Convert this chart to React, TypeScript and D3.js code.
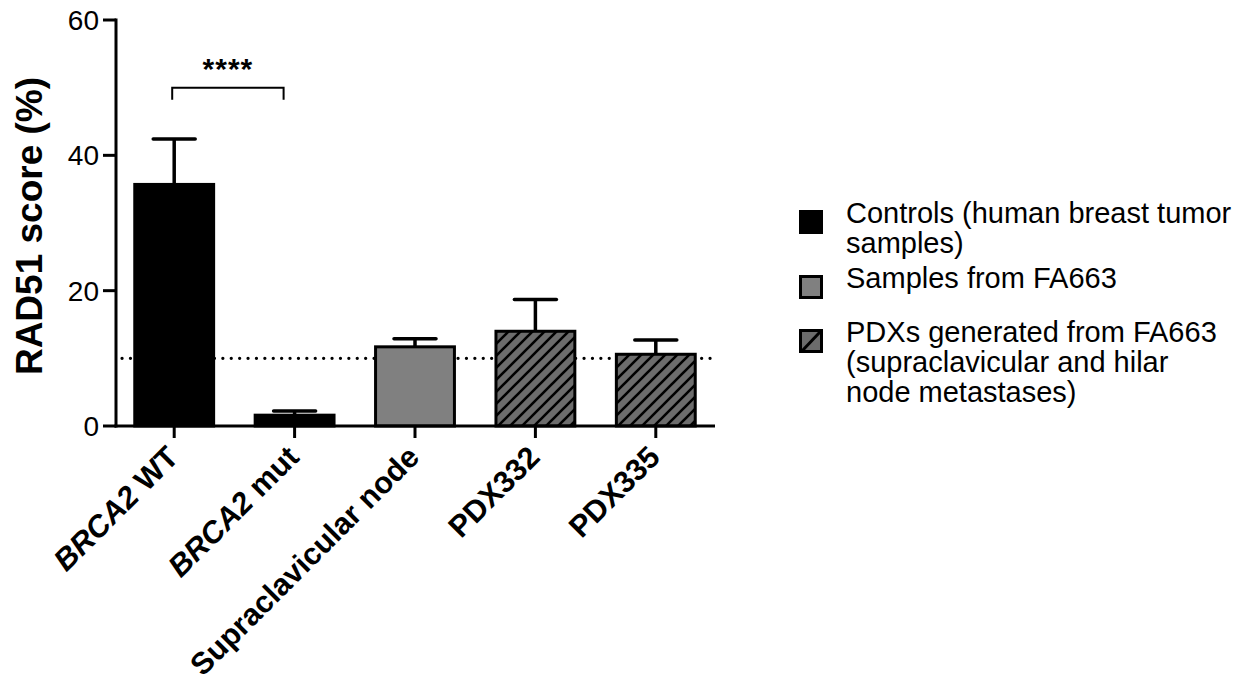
import React, { useEffect, useRef } from 'react';
import * as d3 from 'd3';

const categories = ['BRCA2 WT', 'BRCA2 mut', 'Supraclavicular node', 'PDX332', 'PDX335'];
const italicPart = ['BRCA2', 'BRCA2', '', '', ''];
const means = [35.7, 1.6, 11.7, 14.0, 10.6];
const errors = [6.7, 0.6, 1.2, 4.7, 2.1];
const groups = ['control', 'control', 'sample', 'pdx', 'pdx'];
const yTicks = [0, 20, 40, 60];
const threshold = 10;
const legendItems = [
  { key: 'control', lines: ['Controls (human breast tumor', 'samples)'] },
  { key: 'sample', lines: ['Samples from FA663'] },
  { key: 'pdx', lines: ['PDXs generated from FA663', '(supraclavicular and hilar', 'node metastases)'] },
];

const FONT = 'Arial, "Liberation Sans", sans-serif';

const App = () => {
  const ref = useRef(null);

  useEffect(() => {
    const svg = d3.select(ref.current);
    svg.selectAll('*').remove();

    const y = d3.scaleLinear().domain([0, 60]).range([426, 20]);
    const x = d3
      .scaleBand()
      .domain(categories)
      .range([114, 716])
      .paddingInner(0.32)
      .paddingOuter(0.16);
    const bw = x.bandwidth();
    const cx = (c) => x(c) + bw / 2;

    const defs = svg.append('defs');
    const pat = defs
      .append('pattern')
      .attr('id', 'hatch')
      .attr('patternUnits', 'userSpaceOnUse')
      .attr('width', 12)
      .attr('height', 12);
    pat.append('rect').attr('width', 12).attr('height', 12).attr('fill', '#6c6c6c');
    pat
      .append('path')
      .attr('d', 'M-3,3 L3,-3 M0,12 L12,0 M9,15 L15,9')
      .attr('stroke', '#000')
      .attr('stroke-width', 2.6);

    const fillFor = { control: '#000', sample: '#808080', pdx: 'url(#hatch)' };

    // threshold dotted line (behind bars)
    svg
      .append('line')
      .attr('x1', 122)
      .attr('x2', 713)
      .attr('y1', y(threshold))
      .attr('y2', y(threshold))
      .attr('stroke', '#000')
      .attr('stroke-width', 3.2)
      .attr('stroke-linecap', 'round')
      .attr('stroke-dasharray', '0.1 8.3');

    // bars
    svg
      .selectAll('.bar')
      .data(categories)
      .enter()
      .append('rect')
      .attr('class', 'bar')
      .attr('x', (d) => x(d) + 1.5)
      .attr('width', bw - 3)
      .attr('y', (d, i) => y(means[i]))
      .attr('height', (d, i) => y(0) - y(means[i]))
      .attr('fill', (d, i) => fillFor[groups[i]])
      .attr('stroke', '#000')
      .attr('stroke-width', 3);

    // error bars (upper only)
    const eb = svg.append('g').attr('stroke', '#000').attr('stroke-width', 3.5);
    categories.forEach((c, i) => {
      eb.append('line')
        .attr('x1', cx(c))
        .attr('x2', cx(c))
        .attr('y1', y(means[i]))
        .attr('y2', y(means[i] + errors[i]));
      eb.append('line')
        .attr('x1', cx(c) - 21)
        .attr('x2', cx(c) + 21)
        .attr('y1', y(means[i] + errors[i]))
        .attr('y2', y(means[i] + errors[i]))
        .attr('stroke-linecap', 'round');
    });

    // axes
    const ax = svg.append('g').attr('stroke', '#000').attr('stroke-width', 3);
    ax.append('line').attr('x1', 116).attr('x2', 116).attr('y1', y(60) - 1.5).attr('y2', y(0) + 1.5);
    ax.append('line').attr('x1', 114.5).attr('x2', 715).attr('y1', y(0)).attr('y2', y(0));
    yTicks.forEach((t) => {
      ax.append('line').attr('x1', 103).attr('x2', 116).attr('y1', y(t)).attr('y2', y(t));
    });
    categories.forEach((c) => {
      ax.append('line').attr('x1', cx(c)).attr('x2', cx(c)).attr('y1', y(0)).attr('y2', y(0) + 12);
    });

    svg
      .selectAll('.ytick')
      .data(yTicks)
      .enter()
      .append('text')
      .attr('x', 99)
      .attr('y', (d) => y(d) + 10)
      .attr('text-anchor', 'end')
      .attr('font-family', FONT)
      .attr('font-size', 28)
      .text((d) => d);

    // x labels
    categories.forEach((c, i) => {
      const t = svg
        .append('text')
        .attr('transform', `translate(${cx(c) + 6},${y(0) + 33}) rotate(-45)`)
        .attr('text-anchor', 'end')
        .attr('font-family', FONT)
        .attr('font-weight', 'bold')
        .attr('font-size', 30.5);
      if (italicPart[i]) {
        t.append('tspan').attr('font-style', 'italic').text(italicPart[i]);
        t.append('tspan').text(c.slice(italicPart[i].length));
      } else {
        t.text(c);
      }
    });

    // y title
    svg
      .append('text')
      .attr('transform', `translate(42,226) rotate(-90)`)
      .attr('text-anchor', 'middle')
      .attr('font-family', FONT)
      .attr('font-weight', 'bold')
      .attr('font-size', 37)
      .text('RAD51 score (%)');

    // significance bracket
    const bx1 = cx(categories[0]) - 2;
    const bx2 = cx(categories[1]) - 11;
    svg
      .append('path')
      .attr('d', `M${bx1},${y(48.2)} V${y(50)} H${bx2} V${y(48.2)}`)
      .attr('fill', 'none')
      .attr('stroke', '#000')
      .attr('stroke-width', 2);
    svg
      .append('text')
      .attr('x', (bx1 + bx2) / 2)
      .attr('y', 79)
      .attr('text-anchor', 'middle')
      .attr('font-family', FONT)
      .attr('font-weight', 'bold')
      .attr('font-size', 30)
      .attr('letter-spacing', 1)
      .text('****');

    // legend
    const legendTops = [210, 275, 329];
    const lg = svg.append('g');
    legendItems.forEach((item, i) => {
      const top = legendTops[i];
      const g = lg.append('g');
      if (item.key === 'control') {
        g.append('rect').attr('x', 799).attr('y', top).attr('width', 24).attr('height', 24).attr('fill', '#000');
      } else if (item.key === 'sample') {
        g.append('rect').attr('x', 800.5).attr('y', top + 1.5).attr('width', 21).attr('height', 21)
          .attr('fill', '#808080').attr('stroke', '#000').attr('stroke-width', 3);
      } else {
        g.append('rect').attr('x', 800.5).attr('y', top + 1.5).attr('width', 21).attr('height', 21)
          .attr('fill', '#6c6c6c').attr('stroke', '#000').attr('stroke-width', 3);
        g.append('line').attr('x1', 802).attr('y1', top + 22).attr('x2', 820).attr('y2', top + 3)
          .attr('stroke', '#000').attr('stroke-width', 3);
      }
      item.lines.forEach((ln, j) => {
        g.append('text')
          .attr('x', 846)
          .attr('y', top + 13 + j * 30)
          .attr('font-family', FONT)
          .attr('font-size', 29)
          .text(ln);
      });
    });
  }, []);

  return <svg ref={ref} width={1244} height={680} style={{ display: 'block', position: 'absolute', left: 0, top: 0 }} />;
};

export default App;
